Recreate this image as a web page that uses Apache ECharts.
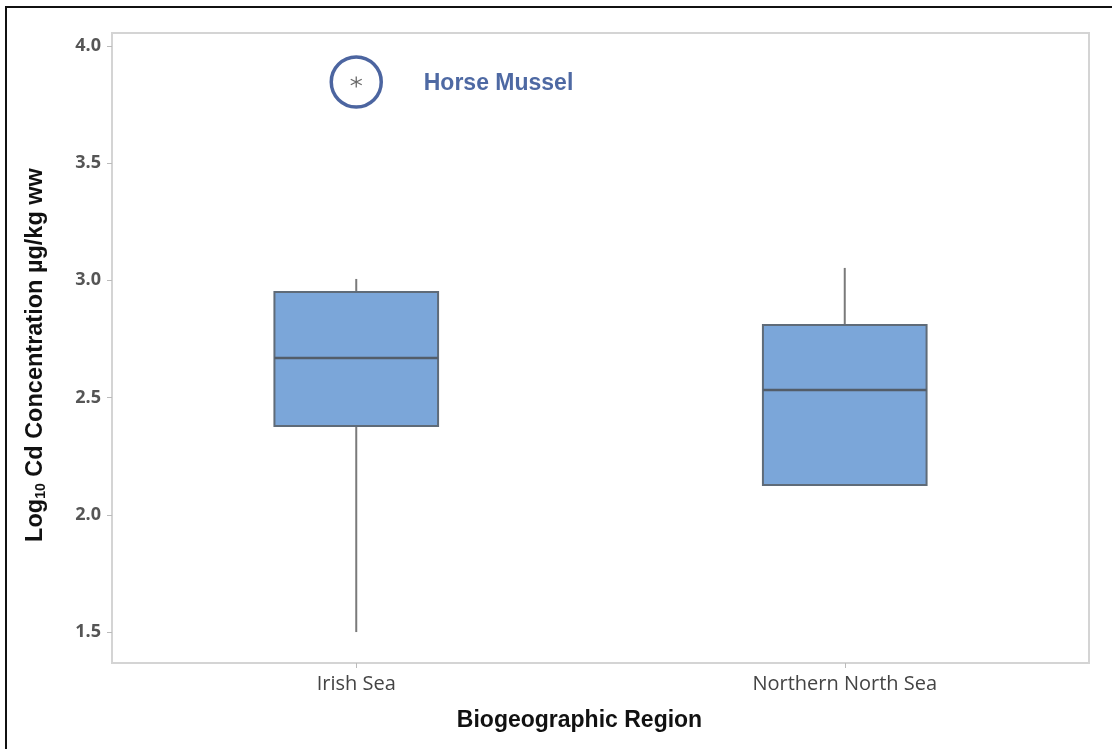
<!DOCTYPE html>
<html>
<head>
<meta charset="utf-8">
<script src="https://cdn.jsdelivr.net/npm/echarts@6/dist/echarts.min.js"></script>
<style>
  html, body { margin: 0; padding: 0; background: #fff; }
  #chart { width: 1112px; height: 749px; }
</style>
</head>
<body>
<div id="chart"></div>
<script>
// Cd concentrations (log10 µg/kg wet weight) by biogeographic region
const categories = ['Irish Sea', 'Northern North Sea'];
const whiskerLow = [1.50, 2.127];
const quartile1 = [2.379, 2.127];
const medians = [2.669, 2.532];
const quartile3 = [2.95, 2.81];
const whiskerHigh = [3.006, 3.053];
// outlier points: category index, value and its annotation
const outlierCats = [0];
const outlierValues = [3.846];
const outlierLabels = ['Horse Mussel'];
const yTickValues = [1.5, 2.0, 2.5, 3.0, 3.5, 4.0];
const yMin = 1.368, yMax = 4.055;

const boxData = categories.map((c, i) =>
  [i, whiskerLow[i], quartile1[i], medians[i], quartile3[i], whiskerHigh[i]]);
const outlierData = outlierCats.map((c, i) => [c, outlierValues[i]]);

const BOX_FRACTION = 0.335;

// box with plain whiskers (no end caps)
function renderBox(params, api) {
  const idx = api.value(0);
  const lo = api.coord([idx, api.value(1)]);
  const q1 = api.coord([idx, api.value(2)]);
  const md = api.coord([idx, api.value(3)]);
  const q3 = api.coord([idx, api.value(4)]);
  const hi = api.coord([idx, api.value(5)]);
  const bw = api.size([1, 0])[0] * BOX_FRACTION;
  const x0 = lo[0] - bw / 2;
  const children = [];
  if (hi[1] < q3[1]) {
    children.push({ type: 'line', shape: { x1: hi[0], y1: hi[1], x2: q3[0], y2: q3[1] },
      style: { stroke: '#7a7a7a', lineWidth: 2 } });
  }
  if (lo[1] > q1[1]) {
    children.push({ type: 'line', shape: { x1: lo[0], y1: lo[1], x2: q1[0], y2: q1[1] },
      style: { stroke: '#7a7a7a', lineWidth: 2 } });
  }
  children.push({ type: 'rect', shape: { x: x0, y: q3[1], width: bw, height: q1[1] - q3[1] },
    style: { fill: '#7ba6d9', stroke: '#5f6b78', lineWidth: 2 } });
  children.push({ type: 'line', shape: { x1: x0, y1: md[1], x2: x0 + bw, y2: md[1] },
    style: { stroke: '#535d69', lineWidth: 2.5 } });
  return { type: 'group', children };
}

const chart = echarts.init(document.getElementById('chart'), null, { renderer: 'canvas' });
chart.setOption({
  animation: false,
  backgroundColor: '#fff',
  graphic: [{
    type: 'rect', silent: true, z: 100,
    shape: { x: 6, y: 7, width: 1300, height: 900 },
    style: { fill: 'none', stroke: '#111', lineWidth: 2 }
  }],
  grid: {
    left: 112, top: 33, width: 977, height: 630,
    show: true, borderColor: '#d4d4d4', borderWidth: 2, backgroundColor: '#fff'
  },
  xAxis: {
    type: 'category',
    data: categories,
    boundaryGap: true,
    axisLine: { show: true, lineStyle: { color: '#d4d4d4', width: 2 } },
    axisTick: { show: true, alignWithLabel: true, length: 5, lineStyle: { color: '#bbb' } },
    axisLabel: { color: '#444', fontFamily: 'Open Sans', fontSize: 20, margin: 11 },
    splitLine: { show: false },
    name: 'Biogeographic Region',
    nameLocation: 'middle',
    nameGap: 46,
    nameTextStyle: {
      color: '#111', fontFamily: 'Liberation Sans', fontSize: 23, fontWeight: 'bold',
      padding: [0, 42, 0, 0]
    }
  },
  yAxis: {
    type: 'value',
    min: yMin, max: yMax,
    axisLine: { show: true, lineStyle: { color: '#d4d4d4', width: 2 } },
    axisTick: { show: true, customValues: yTickValues, length: 5, lineStyle: { color: '#bbb' } },
    axisLabel: {
      customValues: yTickValues,
      formatter: v => v.toFixed(1),
      color: '#555', fontFamily: 'Open Sans', fontWeight: 'bold', fontSize: 18, margin: 11
    },
    splitLine: { show: false },
    name: '{a|Log}{s|10}{a| Cd Concentration µg/kg ww}',
    nameLocation: 'middle',
    nameRotate: 90,
    nameGap: 64,
    nameTextStyle: {
      padding: [0, 14, 0, 0],
      rich: {
        a: { fontFamily: 'Liberation Sans', fontSize: 23.5, fontWeight: 'bold', color: '#111', verticalAlign: 'bottom' },
        s: { fontFamily: 'Liberation Sans', fontSize: 14, fontWeight: 'bold', color: '#111', verticalAlign: 'bottom' }
      }
    }
  },
  series: [
    {
      type: 'custom',
      renderItem: renderBox,
      data: boxData,
      encode: { x: 0, y: [1, 2, 3, 4, 5] },
      z: 2
    },
    {
      type: 'scatter',
      data: outlierData,
      symbol: 'path://M0,-10L0,10M-8.66,-5L8.66,5M-8.66,5L8.66,-5',
      symbolSize: 11,
      itemStyle: { color: 'none', borderColor: '#444', borderWidth: 1.3 },
      z: 3
    },
    {
      type: 'scatter',
      data: outlierData,
      symbol: 'circle',
      symbolSize: 50,
      itemStyle: { color: 'none', borderColor: '#1f3f88', borderWidth: 3.5 },
      label: {
        show: true,
        position: 'right',
        distance: 40,
        offset: [0, 2],
        formatter: p => outlierLabels[p.dataIndex],
        color: '#22448c',
        fontFamily: 'Liberation Sans',
        fontWeight: 'bold',
        fontSize: 23
      },
      z: 4
    }
  ]
});
</script>
</body>
</html>
